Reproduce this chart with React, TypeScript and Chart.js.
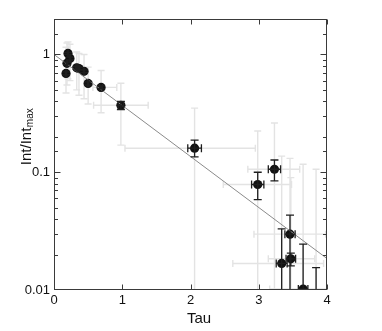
import { useEffect, useRef } from 'react';
import { Chart, registerables } from 'chart.js';
Chart.register(...registerables);

// Measured points
const tau = [0.176, 0.19, 0.205, 0.234, 0.333, 0.366, 0.44, 0.5, 0.69, 0.98, 2.06, 2.985, 3.23, 3.458, 3.336, 3.47, 3.65, 3.84];
const intensity = [0.69, 0.84, 1.02, 0.925, 0.77, 0.76, 0.72, 0.568, 0.525, 0.37, 0.16, 0.0787, 0.106, 0.0298, 0.0168, 0.0184, 0.0102, 0.008];
// Statistical (black) error bars
const tauErr = [0.01, 0.01, 0.01, 0.01, 0.01, 0.01, 0.01, 0.01, 0.02, 0.04, 0.1, 0.09, 0.09, 0.075, 0.08, 0.07, 0.07, 0.05];
const intErrLow = [0.67, 0.82, 1.0, 0.9, 0.75, 0.74, 0.7, 0.55, 0.51, 0.34, 0.135, 0.0585, 0.0844, 0.005, 0.005, 0.016, 0.005, 0.005];
const intErrHigh = [0.71, 0.86, 1.04, 0.95, 0.79, 0.78, 0.74, 0.585, 0.54, 0.4, 0.187, 0.1, 0.127, 0.0432, 0.0331, 0.0206, 0.0245, 0.0155];
// Total (gray) error bars
const grayTauLow = [0.16, 0.17, 0.185, 0.215, 0.31, 0.345, 0.42, 0.48, 0.57, 0.58, 1.04, 2.48, 2.84, 2.93, 2.62, 3.14, 3.16, 3.5];
const grayTauHigh = [0.195, 0.21, 0.225, 0.255, 0.355, 0.39, 0.46, 0.52, 0.92, 1.38, 2.95, 3.48, 3.6, 3.98, 3.95, 3.82, 4.0, 4.0];
const grayIntLow = [0.47, 0.55, 0.62, 0.6, 0.5, 0.45, 0.42, 0.38, 0.32, 0.17, 0.005, 0.005, 0.005, 0.005, 0.005, 0.005, 0.005, 0.005];
const grayIntHigh = [1.15, 1.25, 1.28, 1.22, 1.05, 1.02, 1.0, 0.78, 0.73, 0.57, 0.35, 0.224, 0.262, 0.131, 0.137, 0.09, 0.117, 0.106];
// Exponential fit
const fitTau = [0, 4];
const fitInt = [1.0, 0.0185];
// Axis ticks
const xTicks = [0, 1, 2, 3, 4];
const yLabelled = [0.01, 0.1, 1];

const FONT = "'Liberation Sans', Arial, sans-serif";

export default function App() {
  const ref = useRef<HTMLCanvasElement>(null);
  useEffect(() => {
    if (!ref.current) return;

    const drawErr = (chart: any, low: boolean) => {
      const { ctx, chartArea: a, scales } = chart;
      const x = scales.x, y = scales.y;
      ctx.save();
      ctx.beginPath();
      ctx.rect(a.left, a.top, a.right - a.left, a.bottom - a.top);
      ctx.clip();
      for (let i = 0; i < tau.length; i++) {
        const px = x.getPixelForValue(tau[i]);
        const py = y.getPixelForValue(intensity[i]);
        let x1, x2, y1, y2, cap;
        if (low) {
          ctx.strokeStyle = '#e3e3e3';
          ctx.lineWidth = 1.4;
          x1 = x.getPixelForValue(grayTauLow[i]); x2 = x.getPixelForValue(grayTauHigh[i]);
          y1 = y.getPixelForValue(grayIntLow[i]); y2 = y.getPixelForValue(grayIntHigh[i]);
          cap = 3.5;
        } else {
          ctx.strokeStyle = '#1e1e1e';
          ctx.lineWidth = 1.3;
          x1 = x.getPixelForValue(tau[i] - tauErr[i]); x2 = x.getPixelForValue(tau[i] + tauErr[i]);
          y1 = y.getPixelForValue(intErrLow[i]); y2 = y.getPixelForValue(intErrHigh[i]);
          cap = 4;
        }
        ctx.beginPath();
        ctx.moveTo(px, y1); ctx.lineTo(px, y2);
        ctx.moveTo(px - cap, y1); ctx.lineTo(px + cap, y1);
        ctx.moveTo(px - cap, y2); ctx.lineTo(px + cap, y2);
        ctx.moveTo(x1, py); ctx.lineTo(x2, py);
        ctx.moveTo(x1, py - cap); ctx.lineTo(x1, py + cap);
        ctx.moveTo(x2, py - cap); ctx.lineTo(x2, py + cap);
        ctx.stroke();
      }
      ctx.restore();
    };

    const errPlugin = {
      id: 'errbars',
      beforeDatasetsDraw(chart: any) { drawErr(chart, true); },
      afterDatasetsDraw(chart: any) { drawErr(chart, false); },
    };

    const framePlugin = {
      id: 'frame',
      afterDraw(chart: any) {
        const { ctx, chartArea: a, scales } = chart;
        const x = scales.x, y = scales.y;
        ctx.save();
        ctx.strokeStyle = '#3a3a3a';
        ctx.lineWidth = 1;
        const L = Math.round(a.left) + 0.5, R = Math.round(a.right) - 0.5;
        const T = Math.round(a.top) + 0.5, B = Math.round(a.bottom) - 0.5;
        ctx.strokeRect(L, T, R - L, B - T);
        ctx.beginPath();
        for (const t of y.ticks) {
          const v = t.value;
          const py = Math.round(y.getPixelForValue(v)) + 0.5;
          if (py < T - 0.1 || py > B + 0.1) continue;
          const major = yLabelled.some((m) => Math.abs(m - v) < 1e-9);
          const len = major ? 6 : 3.5;
          ctx.moveTo(L, py); ctx.lineTo(L + len, py);
          ctx.moveTo(R, py); ctx.lineTo(R - len, py);
        }
        for (const v of xTicks) {
          const px = Math.round(x.getPixelForValue(v)) + 0.5;
          ctx.moveTo(px, B); ctx.lineTo(px, B - 5);
          ctx.moveTo(px, T); ctx.lineTo(px, T + 5);
        }
        ctx.stroke();

        // axis titles
        ctx.fillStyle = '#111';
        ctx.font = `15px ${FONT}`;
        ctx.textAlign = 'center';
        ctx.textBaseline = 'middle';
        ctx.fillText('Tau', 199, 319);

        ctx.translate(31, 137);
        ctx.rotate(-Math.PI / 2);
        ctx.textAlign = 'left';
        ctx.textBaseline = 'alphabetic';
        ctx.font = `15px ${FONT}`;
        const main = 'Int/Int';
        const w1 = ctx.measureText(main).width;
        ctx.font = `10px ${FONT}`;
        const w2 = ctx.measureText('max').width;
        const start = -(w1 + w2) / 2;
        ctx.font = `15px ${FONT}`;
        ctx.fillText(main, start, 0);
        ctx.font = `10px ${FONT}`;
        ctx.fillText('max', start + w1 + 0.5, 2);
        ctx.restore();
      },
    };

    const points = tau.map((t, i) => ({ x: t, y: intensity[i] }));
    const fit = fitTau.map((t, i) => ({ x: t, y: fitInt[i] }));

    const chart = new Chart(ref.current, {
      type: 'scatter',
      data: {
        datasets: [
          {
            type: 'line',
            data: fit,
            borderColor: '#8a8a8a',
            borderWidth: 1,
            pointRadius: 0,
            fill: false,
          } as any,
          {
            data: points,
            backgroundColor: '#111',
            borderColor: '#111',
            borderWidth: 0,
            pointRadius: 4.6,
          },
        ],
      },
      options: {
        responsive: false,
        animation: false,
        events: [],
        layout: { padding: { left: 0, right: 55, top: 19, bottom: 0 } },
        plugins: { legend: { display: false }, tooltip: { enabled: false } },
        scales: {
          x: {
            type: 'linear',
            min: 0,
            max: 4,
            grid: { display: false, drawTicks: false },
            border: { display: false },
            afterFit: (s: any) => { s.height = 41; },
            afterBuildTicks: (s: any) => { s.ticks = xTicks.map((v) => ({ value: v })); },
            ticks: {
              padding: 3,
              color: '#111',
              font: { family: FONT, size: 13 },
              callback: (v: any) => String(v),
            },
          },
          y: {
            type: 'logarithmic',
            min: 0.01,
            max: 2,
            grid: { display: false, drawTicks: false },
            border: { display: false },
            afterFit: (s: any) => { s.width = 54; },
            ticks: {
              autoSkip: false,
              padding: 4,
              color: '#111',
              font: { family: FONT, size: 13 },
              callback: (v: any) => (yLabelled.some((m) => Math.abs(m - Number(v)) < 1e-9) ? String(Number(v)) : ''),
            },
          },
        },
      },
      plugins: [errPlugin, framePlugin],
    });
    return () => chart.destroy();
  }, []);

  return (
    <div style={{ position: 'absolute', left: 0, top: 0, width: 382, height: 331, background: '#fff' }}>
      <canvas ref={ref} width={382} height={331} />
    </div>
  );
}
